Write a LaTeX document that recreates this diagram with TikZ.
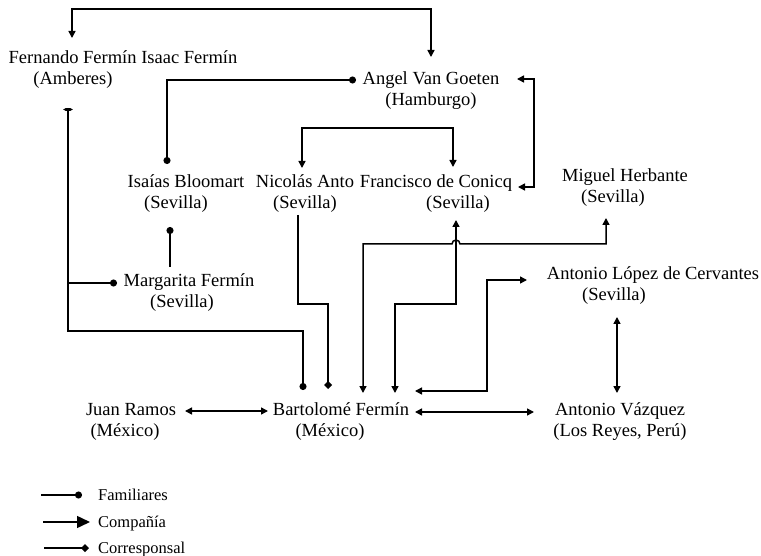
\documentclass[tikz,border=0pt]{standalone}
\usepackage{fontspec}
\setmainfont{Liberation Serif}
\usetikzlibrary{arrows.meta,calc}

\tikzset{
	person/.style={align=center, inner sep=1pt, font=\fontsize{18.5}{21}\selectfont},
	legtext/.style={anchor=base west, inner sep=0pt, font=\fontsize{16.5}{18}\selectfont},
	link/.style={line width=1.5pt},
	fam/.style={link, -{Circle[length=7pt,width=7pt]}},
	comp/.style={link, {Triangle[length=7pt,width=7pt]}-{Triangle[length=7pt,width=7pt]}},
	corr/.style={link, -{Turned Square[length=8pt,width=8pt]}},
}

\begin{document}
\begin{tikzpicture}[x=1pt,y=-1pt]
	\useasboundingbox (0,0) rectangle (761,556);

	\node[person] (fer) at (123, 70)  {Fernando Fermín Isaac Fermín\\(Amberes)\hspace*{100pt}};
	\node[person] (ang) at (431, 91)  {Angel Van Goeten\\(Hamburgo)};
	\node[person] (isa) at (186, 194) {Isaías Bloomart\\(Sevilla)\hspace*{20pt}};
	\node[person] (nic) at (305, 194) {Nicolás Anto\\(Sevilla)};
	\node[person] (fra) at (436, 194) {Francisco de Conicq\\\hspace*{44pt}(Sevilla)};
	\node[person] (mig) at (625, 188) {Miguel Herbante\\(Sevilla)\hspace*{24pt}};
	\node[person] (lop) at (653, 286) {Antonio López de Cervantes\\(Sevilla)\hspace*{78pt}};
	\node[person] (mar) at (189, 293) {Margarita Fermín\\(Sevilla)\hspace*{14pt}};
	\node[person] (jua) at (131, 422) {Juan Ramos\\(México)\hspace*{12pt}};
	\node[person] (bar) at (341, 422) {Bartolomé Fermín\\(México)\hspace*{22pt}};
	\node[person] (vaz) at (620, 422) {Antonio Vázquez\\(Los Reyes, Perú)};

	% familiares
	\draw[fam, {Circle[length=7pt,width=7pt]}-{Circle[length=7pt,width=7pt]}] ($(ang)+(-75,-11)$) -| ($(isa)+(-19,-30)$);
	\draw[fam] ($(mar)+(-19,-26)$) -- ($(isa)+(-16,33)$);
	\draw[fam, {Circle[length=3pt,width=8pt]}-{Circle[length=7pt,width=7pt]}] ($(fer)+(-55,38)$) -- ++(0,223) -| ($(bar)+(-38,-32)$);
	\draw[fam] ($(fer)+(-55,213)$) -- ($(mar)+(-72,-10)$);

	% corresponsal
	\draw[corr] ($(nic)+(-7,21)$) -- ++(0,89) -| ($(bar)+(-13,-33)$);

	% compania
	\draw[comp] ($(fer)+(-51,-32)$) -- ++(0,-29) -| ($(ang)+(0,-34)$);
	\draw[comp] ($(ang)+(86,-12)$) -- ++(17,0) |- ($(fra)+(82,-7)$);
	\draw[comp] ($(nic)+(-3,-26)$) -- ++(0,-40) -| ($(fra)+(17,-27)$);
	\draw[comp] ($(bar)+(22,-29)$) -- ++(0,-149) -- ++(89,0) arc[start angle=180, end angle=0, radius=4pt] -| ($(mig)+(-19,30)$);
	\draw[comp] ($(bar)+(54,-29)$) -- ++(0,-89) -| ($(fra)+(20,26)$);
	\draw[comp] ($(bar)+(74,-31)$) -- ++(72,0) |- ($(lop)+(-126,-6)$);
	\draw[comp] ($(lop)+(-36,31)$) -- ($(vaz)+(-3,-29)$);
	\draw[comp] ($(bar)+(74,-10)$) -- ($(vaz)+(-86,-10)$);
	\draw[comp] ($(jua)+(54,-11)$) -- ($(bar)+(-73,-11)$);

	% leyenda
	\node[legtext] (lf) at (98, 500) {Familiares};
	\node[legtext] (lc) at (98, 527) {Compañía};
	\node[legtext] (lr) at (98, 553) {Corresponsal};
	\draw[fam] ($(lf.base west)+(-57,-5)$) -- ($(lf.base west)+(-16,-5)$);
	\draw[link, -{Triangle[length=13pt,width=12pt]}] ($(lc.base west)+(-55,-5)$) -- ($(lc.base west)+(-8,-5)$);
	\draw[corr] ($(lr.base west)+(-54,-5)$) -- ($(lr.base west)+(-9,-5)$);
\end{tikzpicture}
\end{document}
